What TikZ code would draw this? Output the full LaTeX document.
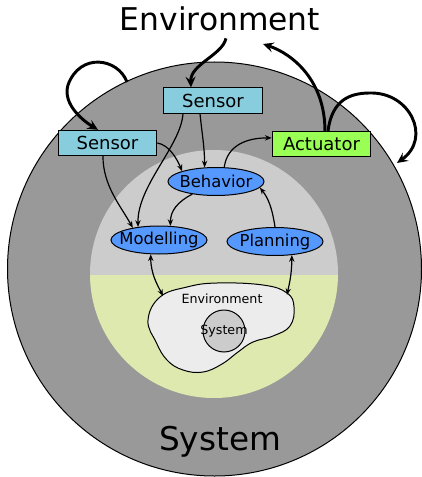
\documentclass[tikz,border=0pt]{standalone}
\usepackage{fontspec}
\setmainfont{DejaVu Sans}
\usetikzlibrary{shapes.geometric,arrows.meta}

\definecolor{outergray}{RGB}{153,153,153}
\definecolor{innergray}{RGB}{204,204,204}
\definecolor{innergreen}{RGB}{221,233,175}
\definecolor{blobgray}{RGB}{236,236,236}
\definecolor{sensorblue}{RGB}{135,205,222}
\definecolor{actgreen}{RGB}{153,255,85}
\definecolor{taskblue}{RGB}{85,153,255}

\begin{document}
\begin{tikzpicture}[x=0.75pt,y=0.75pt,yscale=-1,xscale=1,
  box/.style={draw, line width=0.75, minimum width=74pt, minimum height=19pt, inner sep=0pt, font=\fontsize{13.5}{16}\selectfont},
  task/.style={ellipse, draw, fill=taskblue, line width=0.75, minimum width=72pt, minimum height=21pt, inner xsep=-4.5pt, inner ysep=0pt, font=\fontsize{12.3}{14}\selectfont},
  flow/.style={-{Stealth[length=5pt,width=4pt]}, line width=0.9},
  twoflow/.style={{Stealth[length=5pt,width=4pt]}-{Stealth[length=5pt,width=4pt]}, line width=0.9},
  bigflow/.style={-{Stealth[length=8pt,width=7.5pt,inset=3pt]}, line width=2.2},
]
\useasboundingbox (0,0) rectangle (421,477);

%Shape: Circle [outer system]
\draw [fill=outergray, line width=0.75] (214.5,269) circle [radius=207];

%Shape: Circle [inner, two halves]
\begin{scope}
\clip (214,274) circle [radius=124];
\fill [innergray] (88,148) rectangle (340,275);
\fill [innergreen] (88,275) rectangle (340,400);
\end{scope}

%Shape: Blob [environment model]
\draw [fill=blobgray, line width=0.75] plot [smooth cycle, tension=0.7] coordinates {
  (148,320) (160,297) (187,287) (217,283) (263,285) (287,293) (294,307)
  (290,326) (273,336) (253,342) (238,352) (222,364) (203,372) (183,370)
  (167,360) (156,342)};
\coordinate (blobL) at (163,296);
\coordinate (blobR) at (287,295);

%Shape: Circle [system model]
\node (sysC) [circle, draw, fill=innergray, line width=0.75, minimum size=31.5pt, inner sep=0pt] at (224,331) {};

% Text Node
\node (envT) [anchor=base, inner sep=0pt, font=\fontsize{23.5}{28}\selectfont] at (220,31) {Environment};
% Text Node
\node (sysT) [anchor=base, inner sep=0pt, font=\fontsize{24.5}{29}\selectfont] at (220,450) {System};
% Text Node
\node (envS) [font=\fontsize{9.5}{11}\selectfont] at (222,299) {Environment};
% Text Node
\node (sysS) [font=\fontsize{9.5}{11}\selectfont] at (224,331) {System};

%Boxes
\node (sensT) [box, fill=sensorblue] at (213,100.5) {Sensor};
\node (sensL) [box, fill=sensorblue] at (107.5,143) {Sensor};
\node (act) [box, fill=actgreen] at (321.5,144) {Actuator};

%Ellipses
\node (behav) [task] at (216,181.5) {Behavior};
\node (model) [task] at (159,240) {Modelling};
\node (plan) [task] at (275,241.5) {Planning};

%Free ends
\coordinate (envOut) at (263,44);
\coordinate (loopA) at (127,82);
\coordinate (loopB) at (397,163);

%Thick arrows
\draw [bigflow] ([xshift=4.5pt,yshift=5pt]envT.south) .. controls +(-4,17) and +(-1,-23) .. ([xshift=-16.5pt]sensT.north);
\draw [bigflow] ([xshift=2.6pt]act.north) .. controls +(0,-50) and +(30,10) .. (envOut);
\draw [bigflow] (loopA) .. controls (118,58) and (80,52) .. (68,85) .. controls (62,105) and (85,122) .. ([xshift=-7.1pt]sensL.north);
\draw [bigflow] ([xshift=4.9pt]act.north) .. controls +(4,-31) and +(-20,0) .. (370,93) .. controls +(40,-1) and (432,138) .. (loopB);

%Thin arrows
\draw [flow] ([xshift=-3.4pt]sensL.south) .. controls +(0,29) and +(-13,-23) .. (model.155);
\draw [flow] ([xshift=-22.5pt]sensT.south) .. controls +(-2,32) and +(-1,-41) .. (model.148);
\draw [flow] (sensL.east) .. controls +(12,2) and +(-5,-12) .. (behav.163);
\draw [flow] ([xshift=-9.75pt]sensT.south) .. controls +(2,20) and +(0,-20) .. (behav.129);
\draw [flow] (behav.60) .. controls +(3,-22) and +(-25,0) .. (act.173);
\draw [flow] (behav.208) .. controls +(-15,8) and +(0,-15) .. (model.51);
\draw [flow] (plan.north) .. controls +(-3,-20) and +(8,10) .. (behav.-8);
\draw [twoflow] (model.240) .. controls +(0,20) and +(-5,-10) .. (blobL);
\draw [twoflow] (plan.-39) .. controls +(0,20) and +(2,-10) .. (blobR);

\end{tikzpicture}
\end{document}
